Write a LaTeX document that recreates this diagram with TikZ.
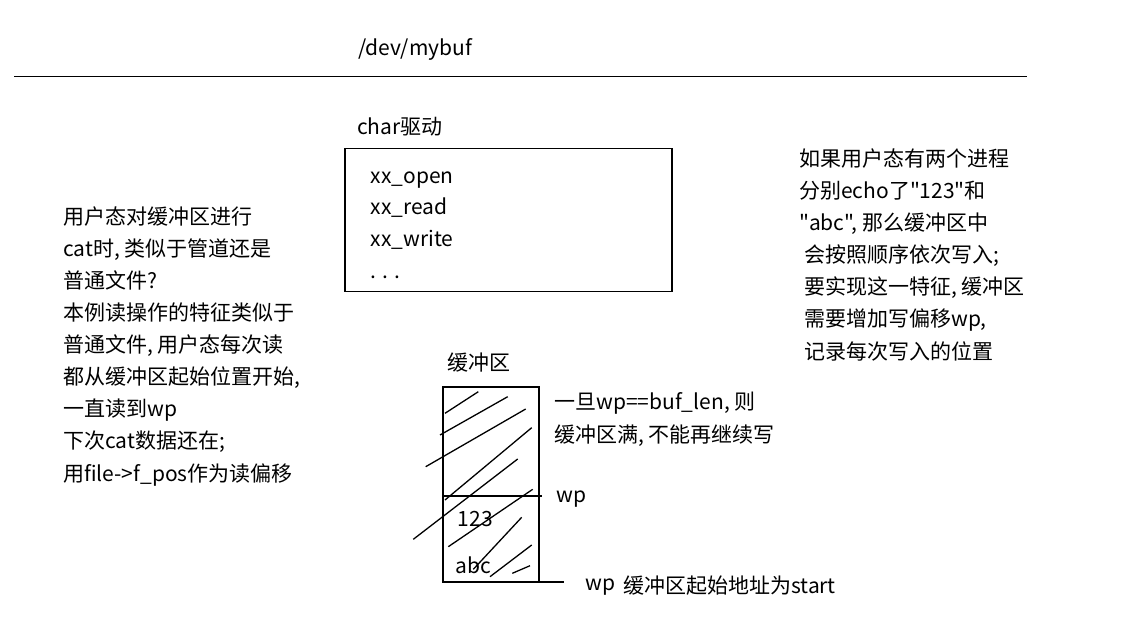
\documentclass[tikz,border=0pt]{standalone}
\usepackage{fontspec}
\setmainfont{Noto Sans CJK SC}[Ligatures=TeXOff]
\begin{document}
\begin{tikzpicture}[x=1pt,y=-1pt,
  txt/.style={anchor=base west,inner sep=0pt,font=\fontsize{21}{32.1}\selectfont},
  blk/.style={txt,align=left},
  edge/.style={line width=1.6pt},
  hatch/.style={line width=1.3pt}]
\useasboundingbox[fill=white] (0,0) rectangle (1141,635);
% top
\node[txt] (dev) at (358,55) {/dev/mybuf};
\coordinate (hl) at (14,76.5);
\coordinate (hr) at (1027,76.5);
\draw[edge] (hl) -- (hr);
% char driver
\node[txt] (chr) at (357,134) {char驱动};
\draw[edge] (345,148.5) rectangle (672,291.5);
\node[blk,font=\fontsize{21}{31.6}\selectfont] (ops) at (370.5,278) {xx\_open\\xx\_read\\xx\_write\\. . .};
% left text
\node[blk] (left) at (63,481) {用户态对缓冲区进行\\cat时, 类似于管道还是\\普通文件?\\本例读操作的特征类似于\\普通文件, 用户态每次读\\都从缓冲区起始位置开始,\\一直读到wp\\下次cat数据还在;\\用file->f\_pos作为读偏移};
% right text
\node[blk] (right) at (799,359) {如果用户态有两个进程\\分别echo了"123"和\\"abc", 那么缓冲区中\\\hspace{5pt}会按照顺序依次写入;\\\hspace{5pt}要实现这一特征, 缓冲区\\\hspace{5pt}需要增加写偏移wp,\\\hspace{5pt}记录每次写入的位置};
% buffer
\node[txt] (buflbl) at (447,370) {缓冲区};
\draw[edge] (443,387) rectangle (539,582);
\coordinate (b0) at (539,582);
\coordinate (b1) at (564,582);
\draw[edge] (b0) -- (b1);
\coordinate (w0) at (443,495.7);
\coordinate (w1) at (542,495.7);
\draw[edge] (w0) -- (w1);
\draw[hatch] (445,413.3) -- (478.3,391.7)
  (440,435) -- (507.7,396.7)
  (425.7,466.7) -- (525.7,409)
  (445,500) -- (531.7,427.7)
  (413.3,539.3) -- (517.7,459)
  (448.3,546.7) -- (532.7,489.3)
  (473.3,569.3) -- (521.7,517.3)
  (490,576.7) -- (531.7,545)
  (512.3,573.3) -- (530,565.7);
\node[txt] (n123) at (457.5,526.7) {123};
\node[txt] (nabc) at (455,573.3) {abc};
\node[blk] (full) at (554,442) {一旦wp==buf\_len, 则\\缓冲区满, 不能再继续写};
\node[txt] (wp) at (556.5,502) {wp};
\node[txt] (wps) at (585,590) {wp};
\node[txt] (start) at (623,593.3) {缓冲区起始地址为start};
\end{tikzpicture}
\end{document}
